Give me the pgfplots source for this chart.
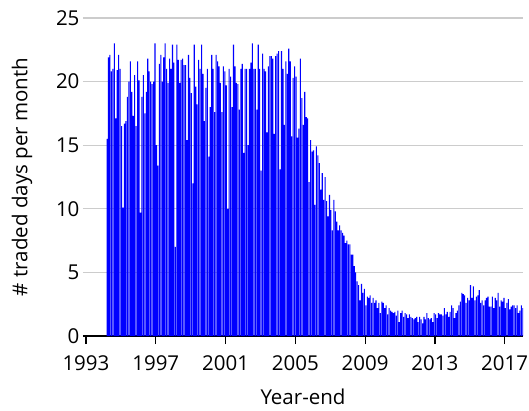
\documentclass[border=0pt]{standalone}
\usepackage{pgfplots}
\pgfplotsset{compat=1.18}
\usepackage{fontspec}
\setmainfont{Open Sans}
\definecolor{gridgray}{RGB}{204,204,204}
\newcommand{\chartfont}{\fontsize{20.5}{24}\selectfont}

\begin{document}
\begin{tikzpicture}
\begin{axis}[
    name=ax,
    scale only axis,
    width=440pt, height=318pt,
    xmin=1992.83, xmax=2018.05,
    ymin=0, ymax=25,
    axis x line*=bottom, axis y line*=left,
    y axis line style={draw=none},
    x axis line style={black, line width=1.2pt},
    xtick={1993,1997,...,2017},
    ytick={0,5,...,25},
    xtick align=outside,
    major tick length=8pt,
    xtick style={black, line width=1.2pt},
    ytick style={draw=none},
    ymajorgrids,
    grid style={gridgray, line width=1.2pt},
    xticklabel style={/pgf/number format/1000 sep={}, yshift=-8pt},
    /pgf/number format/assume math mode=true,
    tick label style={font=\chartfont},
    label style={font=\chartfont},
    xlabel={Year-end},
    ylabel={\# traded days per month},
    xlabel style={at={(axis description cs:0.5,0)}, anchor=center, yshift=-61pt},
    ylabel style={at={(axis description cs:-0.1386,0.5)}, anchor=center},
]
% monthly values, Mar 1994 to early 2018
\addplot[ybar, bar shift=0pt, bar width=0.062, fill=blue, draw=none]
  table[header=false, row sep=\\, x expr=1994.2083+\coordindex/12, y index=0] {
15.5\\ 21.9\\ 22.1\\ 20.8\\ 21.0\\ 23.0\\ 17.1\\ 20.9\\ 22.1\\ 21.0\\
16.5\\ 10.1\\ 16.7\\ 16.9\\ 18.8\\ 20.0\\ 21.6\\ 19.2\\ 17.3\\ 20.5\\
16.5\\ 21.6\\ 20.1\\ 9.7\\ 18.8\\ 20.5\\ 17.5\\ 19.2\\ 21.8\\ 20.8\\
20.0\\ 19.8\\ 20.0\\ 23.0\\ 15.0\\ 13.4\\ 21.4\\ 22.1\\ 20.0\\ 21.9\\
23.0\\ 21.0\\ 19.9\\ 21.8\\ 21.0\\ 22.9\\ 21.5\\ 7.0\\ 22.9\\ 21.7\\
19.9\\ 21.7\\ 21.8\\ 21.3\\ 21.3\\ 15.4\\ 22.1\\ 20.3\\ 19.1\\ 12.0\\
22.9\\ 19.6\\ 18.2\\ 21.7\\ 21.0\\ 22.9\\ 20.6\\ 16.9\\ 19.5\\ 21.0\\
14.1\\ 18.0\\ 22.1\\ 21.0\\ 17.6\\ 22.1\\ 21.6\\ 21.2\\ 19.9\\ 17.6\\
21.2\\ 20.8\\ 19.7\\ 10.0\\ 21.0\\ 20.4\\ 18.0\\ 22.9\\ 21.2\\ 19.9\\
19.8\\ 17.8\\ 21.0\\ 21.4\\ 14.4\\ 21.0\\ 21.0\\ 15.0\\ 21.0\\ 21.5\\
23.0\\ 21.0\\ 21.0\\ 17.8\\ 22.9\\ 21.0\\ 13.0\\ 22.2\\ 21.0\\ 20.8\\
16.0\\ 21.2\\ 22.0\\ 22.0\\ 21.8\\ 15.9\\ 22.0\\ 22.2\\ 22.4\\ 13.1\\
22.4\\ 21.0\\ 16.6\\ 21.6\\ 20.6\\ 22.6\\ 21.6\\ 15.7\\ 20.3\\ 21.2\\
20.4\\ 15.6\\ 16.3\\ 21.8\\ 18.7\\ 16.6\\ 19.2\\ 17.2\\ 17.1\\ 12.1\\
15.4\\ 14.5\\ 14.6\\ 10.3\\ 14.9\\ 14.2\\ 13.6\\ 11.5\\ 12.8\\ 10.7\\
12.5\\ 10.6\\ 9.4\\ 11.1\\ 9.9\\ 8.3\\ 10.7\\ 9.8\\ 9.0\\ 8.3\\
8.7\\ 8.3\\ 8.1\\ 7.9\\ 7.3\\ 7.5\\ 7.2\\ 7.2\\ 6.4\\ 6.4\\
5.5\\ 5.0\\ 4.3\\ 4.0\\ 2.8\\ 4.1\\ 3.4\\ 3.7\\ 2.4\\ 3.1\\
3.0\\ 3.2\\ 2.6\\ 3.0\\ 2.6\\ 2.8\\ 2.2\\ 2.6\\ 1.8\\ 2.7\\
2.6\\ 2.2\\ 2.4\\ 1.7\\ 2.2\\ 2.0\\ 1.9\\ 1.8\\ 1.9\\ 1.6\\
2.0\\ 1.1\\ 1.8\\ 2.0\\ 1.5\\ 1.8\\ 1.7\\ 1.4\\ 1.7\\ 1.5\\
1.4\\ 1.3\\ 1.4\\ 1.5\\ 1.1\\ 1.5\\ 1.3\\ 1.0\\ 1.5\\ 1.3\\
1.8\\ 1.4\\ 1.3\\ 1.4\\ 1.1\\ 1.8\\ 1.7\\ 1.4\\ 1.8\\ 1.7\\
1.7\\ 1.6\\ 2.2\\ 1.7\\ 1.9\\ 1.5\\ 1.9\\ 2.4\\ 2.2\\ 1.4\\
1.8\\ 2.0\\ 2.4\\ 2.7\\ 3.4\\ 3.3\\ 3.2\\ 2.6\\ 3.0\\ 2.8\\
4.0\\ 3.0\\ 3.9\\ 2.8\\ 3.1\\ 3.2\\ 3.6\\ 2.6\\ 2.8\\ 2.4\\
2.8\\ 3.0\\ 3.1\\ 2.3\\ 2.3\\ 3.1\\ 2.2\\ 3.0\\ 2.8\\ 3.4\\
2.3\\ 2.8\\ 2.7\\ 3.0\\ 2.2\\ 2.6\\ 2.9\\ 2.1\\ 2.3\\ 2.4\\
2.4\\ 2.2\\ 2.4\\ 1.8\\ 2.0\\ 2.4\\ 2.2\\
};
\end{axis}
\pgfresetboundingbox
\path ([shift={(-83pt,-74pt)}]ax.south west) rectangle ([shift={(446pt,336pt)}]ax.south west);
\end{tikzpicture}
\end{document}
